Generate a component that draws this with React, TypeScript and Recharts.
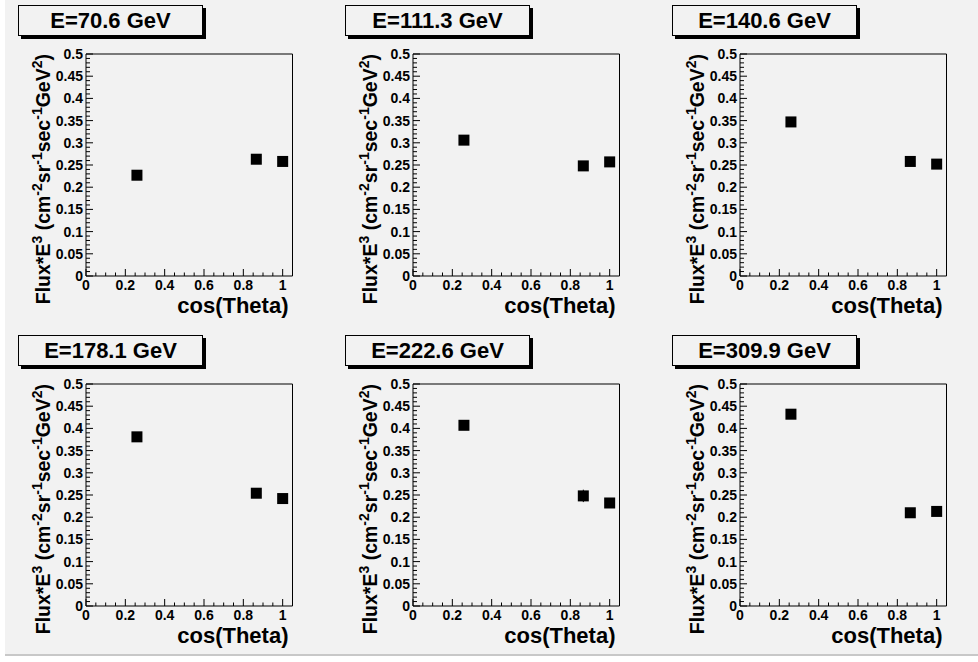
import React from 'react';
import { ScatterChart, Scatter, XAxis, YAxis, ReferenceArea, ErrorBar } from 'recharts';

const FONT = '"Liberation Sans", Arial, Helvetica, sans-serif';

// beam energies of the six panels
const energies = ['70.6', '111.3', '140.6', '178.1', '222.6', '309.9'];
// zenith bins, same for every panel
const cosTheta = [0.259, 0.866, 1.0];

// Flux*E^3 per panel
const flux706 = [0.227, 0.263, 0.258];
const flux1113 = [0.306, 0.248, 0.257];
const flux1406 = [0.347, 0.258, 0.252];
const flux1781 = [0.381, 0.254, 0.242];
const flux2226 = [0.407, 0.248, 0.232];
const flux3099 = [0.432, 0.21, 0.213];

// errors (mostly hidden under the markers)
const err706 = [0.004, 0.005, 0.004];
const err1113 = [0.004, 0.005, 0.004];
const err1406 = [0.004, 0.005, 0.004];
const err1781 = [0.004, 0.005, 0.004];
const err2226 = [0.004, 0.014, 0.004];
const err3099 = [0.004, 0.01, 0.004];

const fluxes = [flux706, flux1113, flux1406, flux1781, flux2226, flux3099];
const errors = [err706, err1113, err1406, err1781, err2226, err3099];

const xMajor = [0, 0.2, 0.4, 0.6, 0.8, 1];
const yMajor = [0, 0.05, 0.1, 0.15, 0.2, 0.25, 0.3, 0.35, 0.4, 0.45, 0.5];

// minor divisions: 0.05 on x, 0.01 on y
const xTicks = Array.from({ length: 21 }, (_, i) => (i * 5) / 100);
const yTicks = Array.from({ length: 51 }, (_, i) => i / 100);

const isMajor = (list: number[], v: number) => list.find((m) => Math.abs(m - v) < 1e-6);

const PANEL_W = 327;
const PANEL_H = 330;

const XTick = (props: any) => {
  const { x, y, payload } = props;
  const m = isMajor(xMajor, payload.value);
  return (
    <g>
      <line x1={x} x2={x} y1={y} y2={y - (m !== undefined ? 7 : 3.5)} stroke="#000" strokeWidth={1} />
      {m !== undefined && (
        <text x={x} y={y + 13.5} textAnchor="middle" fontFamily={FONT} fontWeight="bold" fontSize={14} fill="#000">
          {String(m)}
        </text>
      )}
    </g>
  );
};

const YTick = (props: any) => {
  const { x, y, payload } = props;
  const m = isMajor(yMajor, payload.value);
  return (
    <g>
      <line x1={x} x2={x + (m !== undefined ? 7 : 4)} y1={y} y2={y} stroke="#000" strokeWidth={1} />
      {m !== undefined && (
        <text x={x - 3} y={y + 5} textAnchor="end" fontFamily={FONT} fontWeight="bold" fontSize={14} fill="#000">
          {String(m)}
        </text>
      )}
    </g>
  );
};

const XTitle = (props: any) => {
  const vb = props.viewBox || { x: 86, y: 276, width: 206.5, height: 30 };
  return (
    <text x={vb.x + vb.width - 4} y={vb.y + 37} textAnchor="end" fontFamily={FONT} fontWeight="bold" fontSize={22} fill="#000">
      cos(Theta)
    </text>
  );
};

const YTitle = (props: any) => {
  const vb = props.viewBox || { x: 36, y: 54, width: 50, height: 222 };
  const x = vb.x + 14;
  const y = vb.y;
  const sup = { fontSize: 14, dy: -8 };
  return (
    <text transform={`rotate(-90 ${x} ${y})`} x={x} y={y} textAnchor="end" fontFamily={FONT} fontWeight="bold" fontSize={19.5} fill="#000">
      Flux*E
      <tspan {...sup}>3</tspan>
      <tspan dy={8}> (cm</tspan>
      <tspan {...sup}>-2</tspan>
      <tspan dy={8}>sr</tspan>
      <tspan {...sup}>-1</tspan>
      <tspan dy={8}>sec</tspan>
      <tspan {...sup}>-1</tspan>
      <tspan dy={8}>GeV</tspan>
      <tspan {...sup}>2</tspan>
      <tspan dy={8}>)</tspan>
    </text>
  );
};

const Square = (props: any) => {
  const { cx, cy } = props;
  return <rect x={cx - 5.5} y={cy - 5.5} width={11} height={11} fill="#000" />;
};

const Panel = ({ energy, flux, err }: { energy: string; flux: number[]; err: number[] }) => {
  const data = cosTheta.map((c, i) => ({ c, f: flux[i], e: err[i] }));
  return (
    <div style={{ position: 'relative', width: PANEL_W, height: PANEL_H }}>
      <ScatterChart width={PANEL_W} height={PANEL_H} margin={{ top: 54, right: 34.5, bottom: 24, left: 36 }}>
        <XAxis
          type="number"
          dataKey="c"
          domain={[0, 1.05]}
          ticks={xTicks}
          interval={0}
          tickSize={0}
          tickMargin={0}
          axisLine={false}
          tick={XTick}
          height={30}
          label={XTitle}
          allowDataOverflow
        />
        <YAxis
          type="number"
          dataKey="f"
          domain={[0, 0.5]}
          ticks={yTicks}
          interval={0}
          tickSize={0}
          tickMargin={0}
          axisLine={false}
          tick={YTick}
          width={50}
          label={YTitle}
          allowDataOverflow
        />
        <ReferenceArea x1={0} x2={1.05} y1={0} y2={0.5} fill="none" fillOpacity={0} stroke="#000" strokeWidth={1} />
        <Scatter data={data} shape={Square} isAnimationActive={false}>
          <ErrorBar dataKey="e" direction="y" width={0} stroke="#000" strokeWidth={1} isAnimationActive={false} />
        </Scatter>
      </ScatterChart>
      <div
        style={{
          position: 'absolute',
          left: 18,
          top: 5,
          width: 185,
          height: 31,
          boxSizing: 'border-box',
          border: '1px solid #000',
          boxShadow: '3px 3px 0 #000',
          background: '#f2f2f2',
          display: 'flex',
          alignItems: 'center',
          justifyContent: 'center',
          fontFamily: FONT,
          fontWeight: 'bold',
          fontSize: 22,
          color: '#000',
        }}
      >
        E={energy} GeV
      </div>
    </div>
  );
};

export default function App() {
  return (
    <div style={{ position: 'absolute', left: 0, top: 0, width: 978, height: 662, background: '#fff', overflow: 'hidden' }}>
      <div
        style={{
          position: 'absolute',
          left: 5,
          top: 0,
          width: 973,
          height: 656,
          background: '#f2f2f2',
          borderBottom: '2px solid #c8c8c8',
          boxSizing: 'border-box',
        }}
      />
      {energies.map((e, i) => (
        <div key={e} style={{ position: 'absolute', left: (i % 3) * 327, top: Math.floor(i / 3) * 330 }}>
          <Panel energy={e} flux={fluxes[i]} err={errors[i]} />
        </div>
      ))}
    </div>
  );
}
